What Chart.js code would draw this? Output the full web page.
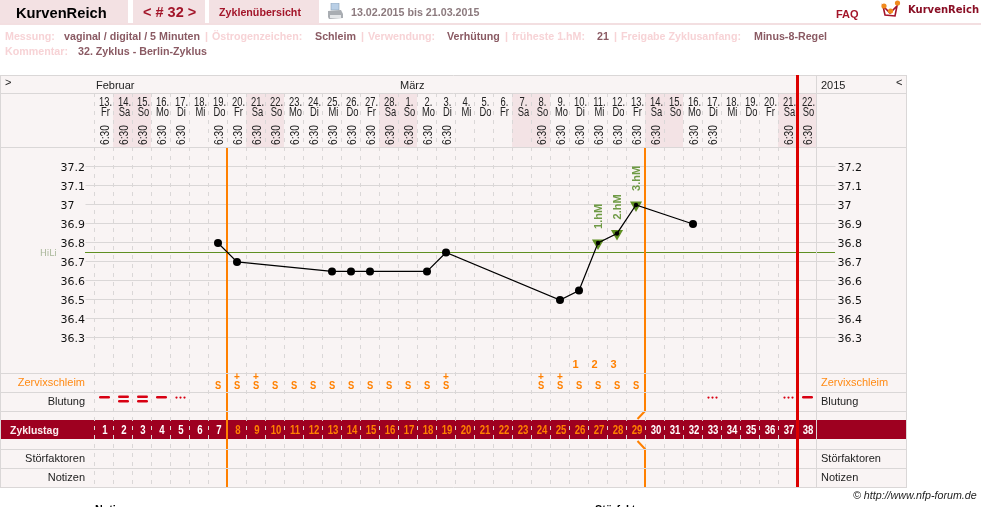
<!DOCTYPE html>
<html>
<head>
<meta charset="utf-8">
<title>KurvenReich</title>
<script src="https://cdn.jsdelivr.net/npm/chart.js@4"></script>
<style>
body { margin: 0; background: #fff; overflow: hidden; font-family: "Liberation Sans", Arial, sans-serif; }
#page { position: relative; width: 981px; height: 507px; overflow: hidden; }
#page canvas { position: absolute; left: 0; top: 0; }
.box { position: absolute; top: 0; height: 23px; background: #f3e1e3; }
.rule { position: absolute; left: 0; top: 23px; width: 981px; height: 2px; background: #f3dfe1; }
.t { position: absolute; white-space: nowrap; font-size: 10.7px; line-height: 13px; font-weight: bold; }
svg { position: absolute; }
</style>
</head>
<body>
<div id="page">
  <div class="box" style="left:0;width:128px"></div>
  <div class="box" style="left:133px;width:72px"></div>
  <div class="box" style="left:209px;width:110px"></div>
  <div class="rule"></div>
  <svg style="left:327px;top:3px" width="17" height="18" viewBox="0 0 17 18">
    <rect x="4" y="0" width="8" height="7" fill="#b9cfe6" stroke="#8aa0b5" stroke-width=".6"/>
    <path d="M1 8 L14 7 L16 11 L16 15 L2 16 L1 14 Z" fill="#a9adb2"/>
    <rect x="3" y="12" width="11" height="3" fill="#e4e6e8"/>
  </svg>
  <svg style="left:880px;top:0" width="24" height="20" viewBox="0 0 24 20">
    <path d="M3 6 L5 15 L15 16 L17 6 L10 13 Z" fill="none" stroke="#a3122a" stroke-width="1.6"/>
    <circle cx="4" cy="6" r="2.6" fill="#f08a1d"/>
    <circle cx="10.5" cy="11" r="2.6" fill="#f08a1d"/>
    <circle cx="17.5" cy="3" r="2.6" fill="#f08a1d"/>
  </svg>
  <canvas id="chart" width="981" height="507"></canvas>
  <div id="head"></div>
</div>
<script>
// cycle data
const cycleDays = ['1','2','3','4','5','6','7','8','9','10','11','12','13','14','15','16','17','18','19',
  '20','21','22','23','24','25','26','27','28','29','30','31','32','33','34','35','36','37','38'];
const dates = ['13.','14.','15.','16.','17.','18.','19.','20.','21.','22.','23.','24.','25.','26.','27.','28.',
  '1.','2.','3.','4.','5.','6.','7.','8.','9.','10.','11.','12.','13.','14.','15.','16.','17.','18.','19.','20.','21.','22.'];
const weekdays = ['Fr','Sa','So','Mo','Di','Mi','Do','Fr','Sa','So','Mo','Di','Mi','Do','Fr','Sa',
  'So','Mo','Di','Mi','Do','Fr','Sa','So','Mo','Di','Mi','Do','Fr','Sa','So','Mo','Di','Mi','Do','Fr','Sa','So'];
const times = ['6:30','6:30','6:30','6:30','6:30','','6:30','6:30','6:30','6:30','6:30','6:30','6:30','6:30','6:30','6:30',
  '6:30','6:30','6:30','','','','','6:30','6:30','6:30','6:30','6:30','6:30','6:30','','6:30','6:30','','','','6:30','6:30'];
const temps = [null,null,null,null,null,null,36.8,36.7,null,null,null,null,36.65,36.65,36.65,null,null,36.65,36.75,
  null,null,null,null,null,36.5,36.55,36.8,36.85,37,null,null,36.9,null,null,null,null,null,null];
const hmTemps = [null,null,null,null,null,null,null,null,null,null,null,null,null,null,null,null,null,null,null,
  null,null,null,null,null,null,null,36.8,36.85,37,null,null,null,null,null,null,null,null,null];
const hmLabels = ['1.hM','2.hM','3.hM'];
const tempTicks = [36.3,36.4,36.5,36.6,36.7,36.8,36.9,37,37.1,37.2];
const coverLine = 36.75;
const schleim = ['','','','','','','S','S+','S+','S','S','S','S','S','S','S','S','S','S+',
  '','','','','S+','S+','S','S','S','S','','','','','','','','',''];
const peakCount = ['','','','','','','','','','','','','','','','','','','','','','','','','','1','2','3','','','','','','','','','',''];
const blutung = ['h','d','d','h','s','','','','','','','','','','','','','','','','','','','','','','','','','','','','s','','','','s','h'];
const cycleLines = [7, 29];
const cycleEnd = 37;

const months = [['Februar', 96], ['März', 400]];
const rowLabels = [['Zervixschleim', 386, '#ff8a14'], ['Blutung', 405, '#222'], ['Störfaktoren', 462, '#222'], ['Notizen', 481, '#222']];

const headText = [
  ['KurvenReich', 16, 5, 'font-size:14.7px;line-height:17px;color:#000'],
  ['< # 32 >', 143, 4, 'font-size:14.5px;line-height:17px;color:#a3162a'],
  ['Zyklenübersicht', 219, 6, 'color:#a3162a'],
  ['13.02.2015 bis 21.03.2015', 351, 6, 'color:#8c7a7e'],
  ['FAQ', 836, 8, 'font-size:11px;color:#a3162a'],
  ['KurvenReich', 908, 4, 'font:bold 10px/12px \'DejaVu Sans\';color:#8a0f25'],
  ['Messung:', 5, 30, 'color:#f7d3d6'],
  ['vaginal / digital / 5 Minuten', 64, 30, 'color:#8a5a63'],
  ['|', 205, 30, 'color:#f7d3d6'],
  ['Östrogenzeichen:', 212, 30, 'color:#f7d3d6'],
  ['Schleim', 315, 30, 'color:#8a5a63'],
  ['|', 361, 30, 'color:#f7d3d6'],
  ['Verwendung:', 368, 30, 'color:#f7d3d6'],
  ['Verhütung', 447, 30, 'color:#8a5a63'],
  ['|', 505, 30, 'color:#f7d3d6'],
  ['früheste 1.hM:', 512, 30, 'color:#f7d3d6'],
  ['21', 597, 30, 'color:#8a5a63'],
  ['|', 614, 30, 'color:#f7d3d6'],
  ['Freigabe Zyklusanfang:', 621, 30, 'color:#f7d3d6'],
  ['Minus-8-Regel', 754, 30, 'color:#8a5a63'],
  ['Kommentar:', 5, 45, 'color:#f7d3d6'],
  ['32. Zyklus - Berlin-Zyklus', 78, 45, 'color:#8a5a63'],
  ['© http://www.nfp-forum.de', 853, 489, 'font-weight:normal;font-style:italic;color:#222'],
  ['Notizen', 95, 503, 'color:#000'],
  ['Störfaktoren', 595, 503, 'color:#000']
];

const head = document.getElementById('head');
headText.forEach(function (h) {
  const s = document.createElement('span');
  s.className = 't';
  s.textContent = h[0];
  s.style.cssText = 'left:' + h[1] + 'px;top:' + h[2] + 'px;' + h[3];
  head.appendChild(s);
});

const gridGrey = '#dad7d7';
const orange = '#ff8000';
const red = '#dc0000';
const bandRed = '#9e0020';
const green = '#5f8f22';

function text(ctx, str, x, y, font, color, align, sx) {
  ctx.save();
  ctx.font = font;
  ctx.fillStyle = color;
  ctx.textAlign = align || 'left';
  ctx.textBaseline = 'alphabetic';
  ctx.translate(x, y);
  if (sx) ctx.scale(sx, 1);
  ctx.fillText(str, 0, 0);
  ctx.restore();
}

function upText(ctx, str, x, y, font, color, sx) {
  ctx.save();
  ctx.font = font;
  ctx.fillStyle = color;
  ctx.textAlign = 'left';
  ctx.textBaseline = 'middle';
  ctx.translate(x, y);
  ctx.rotate(-Math.PI / 2);
  if (sx) ctx.scale(sx, 1);
  ctx.fillText(str, 0, 0);
  ctx.restore();
}

function hline(ctx, y, x1, x2, color) {
  ctx.strokeStyle = color;
  ctx.lineWidth = 1;
  ctx.beginPath();
  ctx.moveTo(x1, y);
  ctx.lineTo(x2, y);
  ctx.stroke();
}

function vpath(ctx, pts, color, w) {
  ctx.strokeStyle = color;
  ctx.lineWidth = w;
  ctx.beginPath();
  pts.forEach(function (p, i) { if (i === 0) ctx.moveTo(p[0], p[1]); else ctx.lineTo(p[0], p[1]); });
  ctx.stroke();
}

// table around the plot: background first, then the lines, then the texts
const tablePlugin = {
  id: 'table',
  beforeDraw(chart) {
    const ctx = chart.ctx, x = chart.scales.x, w = x.width / cycleDays.length;
    ctx.save();
    ctx.fillStyle = '#f9f4f4';
    ctx.fillRect(1, 76, 905, 411);
    ctx.fillStyle = '#f3e3e5';
    weekdays.forEach(function (d, i) {
      if (d === 'Sa' || d === 'So') ctx.fillRect(Math.floor(x.getPixelForValue(i) - w / 2), 94, w, 53);
    });
    ctx.fillStyle = bandRed;
    ctx.fillRect(1, 420, 905, 19);
    ctx.restore();
  },
  beforeDatasetsDraw(chart) {
    const ctx = chart.ctx, x = chart.scales.x, y = chart.scales.y, w = x.width / cycleDays.length;
    const edge = function (n) { return x.getPixelForValue(n - 1) + w / 2; };
    ctx.save();
    hline(ctx, Math.floor(y.getPixelForValue(coverLine)) + 0.5, 85, 835, green);
    const a = Math.floor(edge(cycleLines[0])), b = Math.floor(edge(cycleLines[1]));
    vpath(ctx, [[a, 148], [a, 487]], orange, 2);
    vpath(ctx, [[b, 148], [b, 411], [b - 7.5, 419]], orange, 2);
    vpath(ctx, [[b - 7.5, 441], [b, 449], [b, 487]], orange, 2);
    [75.5, 93.5, 147.5, 373.5, 392.5, 411.5, 449.5, 468.5, 487.5].forEach(function (ly) {
      hline(ctx, ly, 0, 907, gridGrey);
    });
    vpath(ctx, [[0.5, 75], [0.5, 488]], gridGrey, 1);
    vpath(ctx, [[906.5, 75], [906.5, 488]], gridGrey, 1);
    vpath(ctx, [[816.5, 75], [816.5, 488]], gridGrey, 1);
    vpath(ctx, [[edge(cycleEnd), 75], [edge(cycleEnd), 487]], red, 3);

    // header rows
    months.forEach(function (m) { text(ctx, m[0], m[1], 89, '11px "Liberation Sans"', '#222'); });
    text(ctx, '2015', 821, 89, '11px "Liberation Sans"', '#222');
    text(ctx, '>', 5, 86, '11px "Liberation Sans"', '#222');
    text(ctx, '<', 896, 86, '11px "Liberation Sans"', '#222');
    cycleDays.forEach(function (d, i) {
      const px = x.getPixelForValue(i);
      text(ctx, dates[i], px + 1.5, 106, '12px "Liberation Sans"', '#222', 'center', 0.78);
      text(ctx, weekdays[i], px + 1.5, 116, '12px "Liberation Sans"', '#222', 'center', 0.78);
      if (times[i]) upText(ctx, times[i], px + 1.5, 145, '12px "Liberation Sans"', '#222', 0.85);
    });

    // side labels
    rowLabels.forEach(function (r) {
      text(ctx, r[0], 85, r[1], '11px "Liberation Sans"', r[2], 'right');
      text(ctx, r[0], 821, r[1], '11px "Liberation Sans"', r[2], 'left');
    });
    text(ctx, 'HiLi', 40, 256, '9px "DejaVu Sans"', '#a9b79a');
    text(ctx, 'Zyklustag', 10, 434, 'bold 11px "Liberation Sans"', '#fbeef0', 'left', 0.95);

    // day rows
    cycleDays.forEach(function (d, i) {
      const px = x.getPixelForValue(i);
      const inPhase = i >= cycleLines[0] && i < cycleLines[1];
      text(ctx, d, px + 1, 434, 'bold 12px "Liberation Sans"', inPhase ? orange : '#fff', 'center', 0.8);
      if (peakCount[i]) text(ctx, peakCount[i], px - 3.5, 368, 'bold 11px "Liberation Sans"', orange, 'center');
      if (schleim[i]) {
        text(ctx, 'S', px, 389, 'bold 11px "Liberation Sans"', orange, 'center', 0.85);
        if (schleim[i] === 'S+') text(ctx, '+', px, 380, 'bold 10px "Liberation Sans"', orange, 'center');
      }
      ctx.fillStyle = '#d80012';
      if (blutung[i] === 'h' || blutung[i] === 'd') {
        const dy = blutung[i] === 'd' ? [395.5, 400] : [396];
        dy.forEach(function (ty) {
          ctx.beginPath();
          ctx.roundRect(px - 5, ty, 11, 2.6, 1.3);
          ctx.fill();
        });
      }
      if (blutung[i] === 's') {
        [-3.5, 0.5, 4.5].forEach(function (o) {
          ctx.beginPath();
          ctx.arc(px + o, 397.6, 1.1, 0, Math.PI * 2);
          ctx.fill();
        });
      }
      if (hmTemps[i] != null) {
        const nth = hmTemps.slice(0, i).filter(function (v) { return v != null; }).length;
        upText(ctx, hmLabels[nth], px + 0.5, y.getPixelForValue(hmTemps[i]) - 14, 'bold 11px "Liberation Sans"', '#6f9a45');
      }
    });
    ctx.restore();
  }
};

const sameY = { min: 35.516, max: 37.589 };

new Chart(document.getElementById('chart').getContext('2d'), {
  type: 'line',
  data: {
    labels: cycleDays,
    datasets: [{
      label: 'Temperatur',
      data: temps,
      spanGaps: true,
      tension: 0,
      borderColor: '#000',
      borderWidth: 1.2,
      backgroundColor: '#000',
      pointBackgroundColor: '#000',
      pointBorderWidth: 0,
      pointRadius: function (c) { return hmTemps[c.dataIndex] != null ? 2.2 : 4; }
    }, {
      label: 'Hochlage',
      data: hmTemps,
      showLine: false,
      pointStyle: 'triangle',
      rotation: 180,
      pointRadius: 7,
      pointBorderWidth: 0,
      pointBackgroundColor: green
    }]
  },
  plugins: [tablePlugin],
  options: {
    responsive: false,
    animation: false,
    layout: { padding: { left: 60.5, top: 93, right: 114.5, bottom: 20 } },
    plugins: { legend: { display: false }, tooltip: { enabled: false } },
    scales: {
      x: {
        type: 'category',
        offset: true,
        ticks: { display: false },
        grid: { offset: true, color: gridGrey, tickLength: 0, drawTicks: false },
        border: { display: false, dash: [4, 5] }
      },
      y: {
        position: 'left',
        min: sameY.min,
        max: sameY.max,
        afterBuildTicks: function (s) { s.ticks = tempTicks.map(function (v) { return { value: v }; }); },
        afterFit: function (s) { s.width = 34; },
        ticks: {
          autoSkip: false,
          crossAlign: 'far',
          padding: 2,
          labelOffset: 1,
          color: '#111',
          font: { family: 'DejaVu Sans', size: 11 },
          callback: function (v) { return String(v); }
        },
        grid: { color: gridGrey, tickLength: 9 },
        border: { display: false }
      },
      y2: {
        position: 'right',
        min: sameY.min,
        max: sameY.max,
        afterBuildTicks: function (s) { s.ticks = tempTicks.map(function (v) { return { value: v }; }); },
        afterFit: function (s) { s.width = 50; },
        ticks: {
          autoSkip: false,
          padding: 2,
          labelOffset: 1,
          color: '#111',
          font: { family: 'DejaVu Sans', size: 11 },
          callback: function (v) { return String(v); }
        },
        grid: { color: gridGrey, tickLength: 19, drawOnChartArea: false },
        border: { display: false }
      }
    }
  }
});
</script>
</body>
</html>
